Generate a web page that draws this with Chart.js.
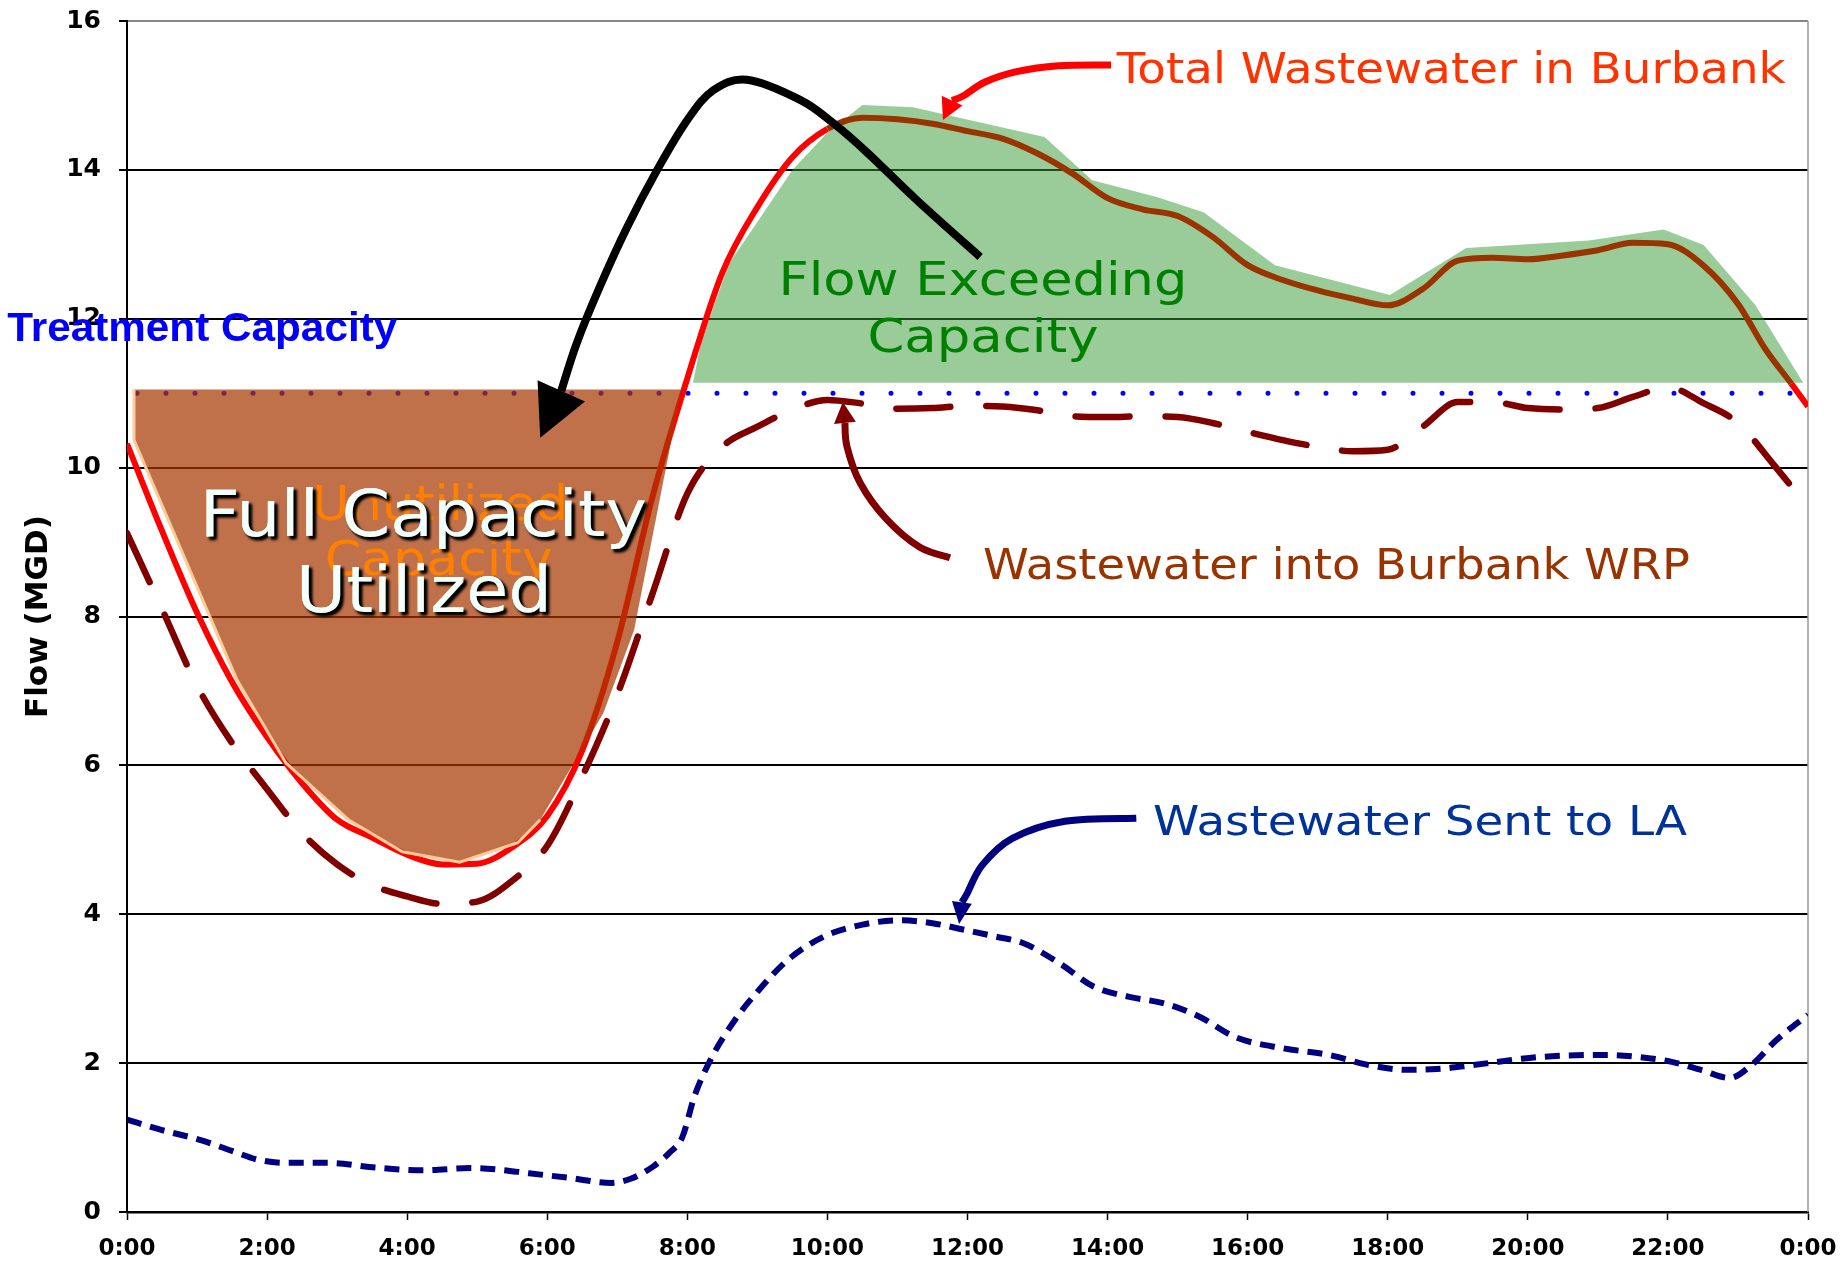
<!DOCTYPE html>
<html>
<head>
<meta charset="utf-8">
<script src="https://cdn.jsdelivr.net/npm/chart.js@4.4.0/dist/chart.umd.min.js"></script>
<style>
  html, body { margin: 0; padding: 0; background: #ffffff; }
  #wrap { width: 1845px; height: 1264px; position: relative; }
</style>
</head>
<body>
<div id="wrap"><canvas id="c" width="1845" height="1264"></canvas></div>
<script>
// ---------------- DATA ----------------
const xTickValues = [0, 2, 4, 6, 8, 10, 12, 14, 16, 18, 20, 22, 24];
const xTickLabels = ['0:00', '2:00', '4:00', '6:00', '8:00', '10:00', '12:00', '14:00', '16:00', '18:00', '20:00', '22:00', '0:00'];
const yTickValues = [0, 2, 4, 6, 8, 10, 12, 14, 16];

const treatmentCapacity = 11.0;

// Total Wastewater in Burbank (MGD)
const totalHours = [0, 0.5, 1, 1.5, 2, 2.5, 3, 3.5, 4, 4.5, 5, 5.5, 6, 6.5, 7, 7.5, 8, 8.5, 9, 9.5,
  10, 10.5, 11, 11.5, 12, 12.5, 13, 13.5, 14, 14.5, 15, 15.5, 16, 16.5, 17, 17.5, 18, 18.5, 19, 19.5,
  20, 20.5, 21, 21.5, 22, 22.5, 23, 23.4, 23.76, 24];
const totalFlow = [10.32, 9.15, 8.05, 7.12, 6.38, 5.76, 5.27, 5.03, 4.8, 4.67, 4.68, 4.9, 5.32, 6.2, 7.66, 9.6, 11.2, 12.62, 13.5, 14.17,
  14.55, 14.7, 14.68, 14.62, 14.52, 14.42, 14.22, 13.95, 13.62, 13.47, 13.38, 13.1, 12.72, 12.52, 12.38, 12.27, 12.18, 12.4, 12.78, 12.82,
  12.8, 12.85, 12.92, 13.02, 13.0, 12.72, 12.2, 11.58, 11.13, 10.82];

// Wastewater into Burbank WRP (MGD)
const wrpHours = [0, 0.5, 1, 1.5, 2, 2.5, 3, 3.5, 4, 4.5, 5, 5.5, 6, 6.5, 7, 7.5, 8, 8.5, 9, 9.5,
  10, 10.5, 11, 11.5, 12, 12.5, 13, 13.5, 14, 14.5, 15, 15.5, 16, 16.5, 17, 17.5, 18, 18.5, 19, 19.5,
  20, 20.5, 21, 21.5, 22, 22.5, 23, 23.5, 24];
const wrpFlow = [9.12, 8.1, 7.07, 6.3, 5.68, 5.09, 4.67, 4.39, 4.24, 4.14, 4.17, 4.45, 4.92, 5.85, 6.95, 8.3, 9.65, 10.28, 10.55, 10.78,
  10.91, 10.86, 10.79, 10.8, 10.83, 10.82, 10.77, 10.69, 10.68, 10.69, 10.68, 10.6, 10.48, 10.37, 10.28, 10.22, 10.24, 10.55, 10.88, 10.88,
  10.8, 10.78, 10.8, 10.95, 11.08, 10.87, 10.6, 10.05, 9.47];

// Wastewater Sent to LA (MGD)
const laHours = [0, 0.5, 1.04, 1.5, 1.88, 2.3, 2.89, 3.5, 4.23, 4.91, 5.3, 5.74, 6.3, 6.92, 7.2, 7.51, 7.75, 7.93, 8.1, 8.35,
  8.68, 9.02, 9.44, 9.95, 10.5, 11.04, 11.5, 11.96, 12.4, 12.8, 13.3, 13.8, 14.31, 14.82, 15.32, 15.82, 16.5, 17.16, 17.7, 18.26,
  18.7, 19.19, 20.02, 20.5, 21.12, 21.6, 22.04, 22.5, 22.88, 23.2, 23.55, 24];
const laFlow = [1.24, 1.1, 0.97, 0.82, 0.7, 0.66, 0.66, 0.6, 0.56, 0.59, 0.57, 0.52, 0.46, 0.39, 0.45, 0.61, 0.8, 1.01, 1.55, 2.08,
  2.58, 2.98, 3.39, 3.7, 3.86, 3.92, 3.88, 3.79, 3.7, 3.61, 3.35, 3.03, 2.89, 2.8, 2.62, 2.35, 2.2, 2.11, 1.98, 1.91,
  1.92, 1.97, 2.07, 2.1, 2.11, 2.08, 2.02, 1.9, 1.8, 1.98, 2.31, 2.65];

// Flow Exceeding Capacity (shaded area, upper outline)
const exceedHours = [8.08, 8.2, 8.6, 9.0, 9.5, 10.0, 10.5, 11.22, 13.1, 13.78, 14.69, 15.37, 16.39, 18.03, 19.12, 20.87, 21.94, 22.51, 23.25, 23.93];
const exceedFlow = [11.14, 11.7, 12.75, 13.3, 14.0, 14.5, 14.87, 14.84, 14.44, 13.86, 13.64, 13.43, 12.72, 12.32, 12.95, 13.05, 13.2, 12.99, 12.18, 11.14];
const exceedBase = 11.14;

// Full Capacity Utilized (shaded area, lower outline)
const utilHours = [0.1, 0.1, 1.57, 2.27, 3.16, 3.93, 4.75, 5.58, 5.9, 6.8, 7.24, 7.94];
const utilFlow = [11.05, 10.37, 7.15, 6.03, 5.27, 4.84, 4.70, 4.96, 5.27, 6.7, 7.82, 11.17];
const utilTop = 11.05;
const utilEdgeCount = 9; // the light outline follows the first points (left side of the area)

const pts = (hs, vs) => hs.map((h, i) => ({ x: h, y: vs[i] }));

// ---------------- HELPERS ----------------
const FAMILY = '"DejaVu Sans", Verdana, sans-serif';

function fitText(ctx, text, x, y, o) {
  ctx.save();
  ctx.font = `${o.weight || 'normal'} ${o.size}px ${o.family || FAMILY}`;
  ctx.textAlign = 'left';
  ctx.textBaseline = 'alphabetic';
  ctx.fillStyle = o.color;
  const w0 = ctx.measureText(text).width;
  const left = o.align === 'center' ? x - o.width / 2 : x;
  const sx = o.width / w0;
  ctx.translate(left, y);
  ctx.scale(sx, 1);
  if (o.shadow) {
    ctx.shadowColor = o.shadow;
    ctx.shadowOffsetX = 3;
    ctx.shadowOffsetY = 3;
    ctx.shadowBlur = 3;
    ctx.fillText(text, 0, 0);
  }
  ctx.fillText(text, 0, 0);
  ctx.restore();
}

function smoothStroke(ctx, p) {
  ctx.beginPath();
  ctx.moveTo(p[0].x, p[0].y);
  for (let i = 0; i < p.length - 1; i++) {
    const p0 = p[Math.max(i - 1, 0)], p1 = p[i], p2 = p[i + 1], p3 = p[Math.min(i + 2, p.length - 1)];
    const c1x = p1.x + (p2.x - p0.x) / 6, c1y = p1.y + (p2.y - p0.y) / 6;
    const c2x = p2.x - (p3.x - p1.x) / 6, c2y = p2.y - (p3.y - p1.y) / 6;
    ctx.bezierCurveTo(c1x, c1y, c2x, c2y, p2.x, p2.y);
  }
  ctx.stroke();
}

function drawArrow(ctx, shaft, tip, color, width, headWidth) {
  ctx.save();
  ctx.strokeStyle = color;
  ctx.fillStyle = color;
  ctx.lineWidth = width;
  ctx.lineCap = 'butt';
  ctx.lineJoin = 'round';
  smoothStroke(ctx, shaft);
  const b = shaft[shaft.length - 1];
  const dx = tip.x - b.x, dy = tip.y - b.y;
  const L = Math.hypot(dx, dy) || 1;
  const nx = -dy / L, ny = dx / L;
  ctx.beginPath();
  ctx.moveTo(tip.x, tip.y);
  ctx.lineTo(b.x + nx * headWidth / 2, b.y + ny * headWidth / 2);
  ctx.lineTo(b.x - nx * headWidth / 2, b.y - ny * headWidth / 2);
  ctx.closePath();
  ctx.fill();
  ctx.restore();
}

// ---------------- ANNOTATION PLUGIN ----------------
const annotations = {
  id: 'annotations',
  beforeDatasetsDraw(chart) {
    const { ctx, chartArea: a } = chart;
    ctx.save();
    ctx.strokeStyle = '#999999';
    ctx.lineWidth = 1.5;
    ctx.beginPath();
    ctx.moveTo(a.right, a.top);
    ctx.lineTo(a.right, a.bottom);
    ctx.stroke();
    ctx.restore();
  },
  afterDatasetsDraw(chart) {
    const ctx = chart.ctx;
    const X = v => chart.scales.x.getPixelForValue(v);
    const Y = v => chart.scales.y.getPixelForValue(v);
    const P = (h, v) => ({ x: X(h), y: Y(v) });

    // hidden orange text under the big label
    fitText(ctx, 'Unutilized', X(4.47), Y(9.3), { size: 48, color: '#ff8000', width: 256, align: 'center' });
    fitText(ctx, 'Capacity', X(4.45), Y(8.56), { size: 48, color: '#ff8000', width: 228, align: 'center' });

    // big white label
    fitText(ctx, 'Full Capacity', X(4.23), Y(9.08), { size: 64, color: '#f2fffa', width: 447, align: 'center', shadow: 'rgba(0,0,0,0.95)' });
    fitText(ctx, 'Utilized', X(4.24), Y(8.06), { size: 64, color: '#f2fffa', width: 256, align: 'center', shadow: 'rgba(0,0,0,0.95)' });

    // green label
    fitText(ctx, 'Flow Exceeding', X(12.22), Y(12.32), { size: 47, color: '#008000', width: 409, align: 'center' });
    fitText(ctx, 'Capacity', X(12.22), Y(11.55), { size: 47, color: '#008000', width: 231, align: 'center' });

    // series labels
    fitText(ctx, 'Total Wastewater in Burbank', X(14.13), Y(15.17), { size: 42, color: '#ff3300', width: 669 });
    fitText(ctx, 'Wastewater into Burbank WRP', X(12.22), Y(8.5), { size: 42, color: '#993300', width: 707 });
    fitText(ctx, 'Wastewater Sent to LA', X(14.65), Y(5.06), { size: 41, color: '#003399', width: 534 });
    fitText(ctx, 'Treatment Capacity', X(-1.71), Y(11.7), { size: 40, weight: 'bold', family: '"Liberation Sans", Arial, sans-serif', color: '#0000ff', width: 390 });

    // arrows
    drawArrow(ctx,
      [P(12.18, 12.83), P(11.28, 13.59), P(10.57, 14.23), P(10.08, 14.63), P(9.61, 14.94), P(8.85, 15.21),
       P(8.37, 15.07), P(8.0, 14.67), P(7.57, 14.0), P(7.14, 13.23), P(6.75, 12.43), P(6.42, 11.67), P(6.2, 11.03)],
      P(5.9, 10.4), '#000000', 8, 52);
    drawArrow(ctx,
      [P(14.05, 15.41), P(13.3, 15.40), P(12.7, 15.32), P(12.25, 15.18), P(11.95, 15.0), P(11.78, 14.93)],
      P(11.65, 14.67), '#ff0000', 7, 23);
    drawArrow(ctx,
      [P(11.75, 8.79), P(11.32, 8.93), P(10.85, 9.3), P(10.47, 9.79), P(10.28, 10.28), P(10.25, 10.6)],
      P(10.22, 10.88), '#800000', 7, 22);
    drawArrow(ctx,
      [P(14.41, 5.29), P(13.39, 5.25), P(12.64, 5.02), P(12.21, 4.66), P(11.99, 4.27), P(11.92, 4.16)],
      P(11.88, 3.87), '#000080', 7, 20);
  }
};

// ---------------- CHART ----------------
const tickFont = { family: FAMILY, weight: 'bold' };
let xAxisHeight = 52;

const chart = new Chart(document.getElementById('c'), {
  type: 'line',
  data: {
    datasets: [
      {
        label: 'Flow Exceeding Capacity',
        data: pts(exceedHours, exceedFlow),
        borderWidth: 0,
        borderColor: 'rgba(0,0,0,0)',
        backgroundColor: 'rgba(51,153,51,0.5)',
        fill: { value: exceedBase },
        tension: 0,
        pointRadius: 0,
        order: 10
      },
      {
        label: 'Treatment Capacity',
        data: [{ x: 0, y: treatmentCapacity }, { x: 24, y: treatmentCapacity }],
        borderColor: '#0000ff',
        borderWidth: 5,
        borderDash: [0, 29],
        borderDashOffset: 19,
        borderCapStyle: 'round',
        fill: false,
        pointRadius: 0,
        order: 9
      },
      {
        label: 'Total Wastewater in Burbank',
        data: pts(totalHours, totalFlow),
        borderColor: '#ff0000',
        borderWidth: 6,
        cubicInterpolationMode: 'monotone',
        segment: {
          borderColor: c => (c.p0.parsed.x >= 10 && c.p1.parsed.y >= 11.05) ? '#993300' : '#ff0000'
        },
        fill: false,
        pointRadius: 0,
        order: 8
      },
      {
        label: 'Full Capacity Utilized',
        data: pts(utilHours, utilFlow),
        borderWidth: 0,
        borderColor: 'rgba(0,0,0,0)',
        backgroundColor: 'rgba(166,55,0,0.71)',
        fill: { value: utilTop },
        tension: 0,
        pointRadius: 0,
        order: 7
      },
      {
        label: 'Full Capacity Utilized edge',
        data: pts(utilHours.slice(0, utilEdgeCount), utilFlow.slice(0, utilEdgeCount)),
        borderColor: '#ffcc99',
        borderWidth: 3,
        tension: 0,
        fill: false,
        pointRadius: 0,
        order: 6
      },
      {
        label: 'Wastewater into Burbank WRP',
        data: pts(wrpHours, wrpFlow),
        borderColor: '#800000',
        borderWidth: 6.5,
        borderDash: [54, 36],
        borderCapStyle: 'round',
        cubicInterpolationMode: 'monotone',
        fill: false,
        pointRadius: 0,
        order: 5
      },
      {
        label: 'Wastewater Sent to LA',
        data: pts(laHours, laFlow),
        borderColor: '#000080',
        borderWidth: 6,
        borderDash: [15, 9],
        cubicInterpolationMode: 'monotone',
        fill: false,
        pointRadius: 0,
        order: 4
      }
    ]
  },
  options: {
    responsive: false,
    animation: false,
    devicePixelRatio: 1,
    layout: { padding: { top: 21, right: 37, left: 0, bottom: 0 } },
    plugins: { legend: { display: false }, tooltip: { enabled: false } },
    elements: { point: { radius: 0 } },
    scales: {
      x: {
        type: 'linear',
        min: 0,
        max: 24,
        afterBuildTicks: s => { s.ticks = xTickValues.map(v => ({ value: v })); },
        ticks: {
          callback: (v, i) => xTickLabels[i],
          font: Object.assign({ size: 23 }, tickFont),
          color: '#000000',
          padding: 15,
          maxRotation: 0,
          autoSkip: false
        },
        grid: { drawOnChartArea: false, drawTicks: true, tickLength: 8, tickColor: '#000000', tickWidth: 1.5 },
        border: { display: true, color: '#000000', width: 2.5 },
        afterFit: s => {
          s.height = xAxisHeight;
          s.paddingLeft = 0; s.paddingRight = 0;
        }
      },
      y: {
        min: 0,
        max: 16,
        afterBuildTicks: s => { s.ticks = yTickValues.map(v => ({ value: v })); },
        ticks: {
          font: Object.assign({ size: 25 }, tickFont),
          color: '#000000',
          padding: 18
        },
        grid: {
          color: c => (c.tick && c.tick.value === 16) ? '#888888' : '#000000',
          lineWidth: 2,
          drawTicks: true,
          tickLength: 8,
          tickColor: '#000000'
        },
        border: { display: true, color: '#000000', width: 2 },
        title: {
          display: true,
          text: 'Flow (MGD)',
          font: { family: FAMILY, weight: 'bold', size: 31 },
          color: '#000000',
          padding: { top: 20, bottom: 0 }
        },
        afterFit: s => {
          s.width = 127;
          s.paddingTop = 0; s.paddingBottom = 0;
        }
      }
    }
  },
  plugins: [annotations]
});

// fine-tune the plot frame to the reference (top 21, right 1808, bottom 1212)
for (let k = 0; k < 2; k++) {
  const ca = chart.chartArea;
  const pad = chart.config.options.layout.padding;
  const dTop = 21 - ca.top, dRight = ca.right - 1808, dBottom = ca.bottom - 1212;
  if (Math.abs(dTop) < 0.5 && Math.abs(dRight) < 0.5 && Math.abs(dBottom) < 0.5) break;
  chart.config.options.layout.padding = {
    top: Math.max(0, pad.top + dTop), right: Math.max(0, pad.right + dRight), left: pad.left || 0, bottom: pad.bottom || 0
  };
  xAxisHeight += dBottom;
  chart.update();
}
</script>
</body>
</html>
